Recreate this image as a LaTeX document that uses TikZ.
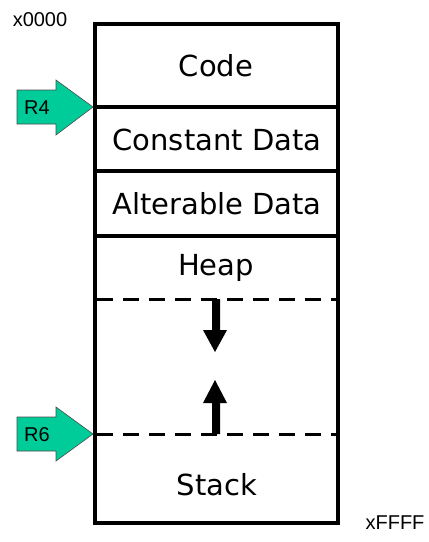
\documentclass[tikz,border=0pt]{standalone}
\usepackage{fontspec}
\setmainfont{Liberation Sans}
\newfontfamily\boxfont{DejaVu Sans}
\definecolor{regcol}{RGB}{0,204,153}
\begin{document}
\begin{tikzpicture}[x=1pt,y=-1pt,
  wall/.style={line width=3.5pt},
  dashline/.style={line width=3pt,dash pattern=on 16pt off 10pt},
  seglabel/.style={font=\boxfont\fontsize{29}{32}\selectfont,inner sep=0pt},
  addr/.style={font=\fontsize{20}{23}\selectfont,inner sep=0pt},
  regarrow/.style={fill=regcol,draw=black!70,line width=0.6pt,line join=miter},
  growarrow/.style={fill=black}]
\useasboundingbox (0,0) rectangle (429,542);
% outer box and dividers
\draw[wall] (95,24) rectangle (338,523);
\draw[wall] (95,107) -- (338,107);
\draw[wall] (95,171) -- (338,171);
\draw[wall] (95,236) -- (338,236);
\draw[dashline] (97,299) -- (338,299);
\draw[dashline] (97,434) -- (338,434);
% segment labels
\node[seglabel] (code) at (216,66) {Code};
\node[seglabel] (const) at (217,140) {Constant Data};
\node[seglabel] (alter) at (217,204) {Alterable Data};
\node[seglabel] (heap) at (216,268) {Heap};
\node[seglabel] (stack) at (217,485) {Stack};
% growth arrows
\fill[growarrow] (212,299) -- (220,299) -- (220,330) -- (227,330) -- (215,352) -- (203,330) -- (212,330) -- cycle;
\fill[growarrow] (212,434) -- (220,434) -- (220,403) -- (227,403) -- (215,380) -- (203,403) -- (212,403) -- cycle;
% address labels
\node[addr] (top) at (40,20) {x0000};
\node[addr] (bot) at (395,523) {xFFFF};
% register arrows
\draw[regarrow] (17,90) -- (56,90) -- (56,80) -- (93,107) -- (56,135) -- (56,124) -- (17,124) -- cycle;
\node[addr] (r4) at (37,108) {R4};
\draw[regarrow] (17,417) -- (56,417) -- (56,407) -- (93,434) -- (56,461) -- (56,451) -- (17,451) -- cycle;
\node[addr] (r6) at (37,435) {R6};
\end{tikzpicture}
\end{document}
